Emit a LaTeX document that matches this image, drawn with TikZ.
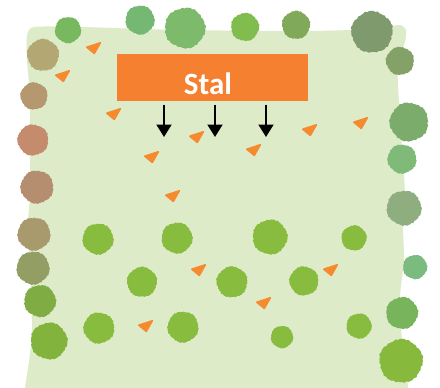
\documentclass[tikz,border=0pt]{standalone}
\usepackage{fontspec}
\setmainfont{Carlito}
\usetikzlibrary{arrows.meta}
\definecolor{field}{HTML}{DEEBC8}
\definecolor{stalorange}{HTML}{F58030}
\definecolor{carrot}{HTML}{F58A2E}
\tikzset{
  carrotshape/.style={fill=carrot,draw=carrot,line width=1.6pt,line join=round},
  stalbox/.style={fill=stalorange,minimum width=191pt,minimum height=47pt,inner sep=0pt,text=white,font=\bfseries\fontsize{31}{31}\selectfont},
  downarrow/.style={draw=black,line width=2pt,-{Triangle[width=15pt,length=12.5pt]}}
}
% x y radius hexcolour phase
\newcommand{\bush}[5]{%
  \definecolor{bushcol}{HTML}{#4}%
  \fill[bushcol] plot[domain=0:358,samples=180,variable=\a]
    ({#1+(#3)*(0.96+0.022*sin(5*\a+#5)+0.014*sin(19*\a+2*#5)+0.012*sin(31*\a+3*#5))*cos(\a)},
     {#2+(#3)*(0.96+0.022*sin(5*\a+#5)+0.014*sin(19*\a+2*#5)+0.012*sin(31*\a+3*#5))*sin(\a)}) -- cycle;}
\newcommand{\carrotat}[2]{%
  \filldraw[carrotshape] (#1-0.7,#2+0.8) -- ++(-13.5,4.4) -- ++(7.5,6.2) -- cycle;}
\begin{document}
\begin{tikzpicture}[x=1pt,y=-1pt]
\useasboundingbox (0,0) rectangle (440,388);
\fill[white] (0,0) rectangle (440,388);
% field
\fill[field] plot[smooth,tension=0.4] coordinates {
 (23,400) (30,354) (32,320) (28,227) (30,194) (30,100) (27,60) (27,36) (34,27) (80,27) (180,30) (300,31) (350,30) (385,27) (400,25) (406,30) (405,42) (398,60) (398,85)
 (401,133) (405,194) (403,227) (404,260) (400,297) (402,340) (410,400)} -- cycle;
% outer bushes
\bush{68}{30}{13.5}{78B85E}{10}
\bush{140}{20}{15}{74B874}{40}
\bush{185}{28}{21}{7DBA6C}{80}
\bush{245}{27}{14.5}{80BD4E}{120}
\bush{296}{25}{14.5}{80A95A}{160}
\bush{372}{32}{21.5}{7F9A6C}{200}
\bush{400}{61}{14.5}{84A268}{240}
\bush{409}{122}{20}{7CAC6C}{280}
\bush{402}{159}{15}{80BA78}{320}
\bush{404}{208}{18}{8FAE80}{30}
\bush{415}{267}{12.5}{7CBB80}{70}
\bush{402}{313}{16.5}{78B45C}{110}
\bush{401}{361}{22.5}{86B93C}{150}
\bush{43}{55}{16.5}{B3A873}{190}
\bush{34}{96}{14}{B59770}{230}
\bush{33}{140}{16}{C48C6C}{270}
\bush{37}{187}{17}{B48E6E}{310}
\bush{34}{234}{17}{A89A6C}{350}
\bush{33}{268}{17}{929E64}{20}
\bush{40}{301}{16.5}{7FAD44}{60}
\bush{49}{341}{19}{82B33C}{100}
% inner bushes
\bush{98}{239}{16}{88BC3E}{15}
\bush{177}{238}{16}{88BC3E}{55}
\bush{270}{237}{18}{88BC3E}{95}
\bush{354}{238}{13}{88BC3E}{135}
\bush{142}{282}{15.5}{88BC3E}{175}
\bush{232}{282}{16}{88BC3E}{215}
\bush{304}{281}{15}{88BC3E}{255}
\bush{99}{328}{16}{88BC3E}{295}
\bush{183}{327}{16}{88BC3E}{335}
\bush{282}{337}{11.5}{88BC3E}{25}
\bush{359}{326}{13}{88BC3E}{65}
% carrots
\carrotat{101}{42}
\carrotat{70}{70}
\carrotat{121}{108}
\carrotat{204}{131}
\carrotat{159}{151}
\carrotat{180}{190}
\carrotat{261}{144}
\carrotat{317}{124}
\carrotat{368}{117}
\carrotat{206}{264}
\carrotat{153}{320}
\carrotat{338}{264}
\carrotat{271}{297}
% barn
\node[stalbox] (stal) at (212.5,77.5) {\hspace*{-9pt}\smash{\raisebox{-17pt}{Stal}}};
\coordinate (s1) at (164,104.5);
\coordinate (e1) at (164,137);
\coordinate (s2) at (215,104.5);
\coordinate (e2) at (215,137);
\coordinate (s3) at (266,104.5);
\coordinate (e3) at (266,137);
\draw[downarrow] (s1) -- (e1);
\draw[downarrow] (s2) -- (e2);
\draw[downarrow] (s3) -- (e3);
\end{tikzpicture}
\end{document}
